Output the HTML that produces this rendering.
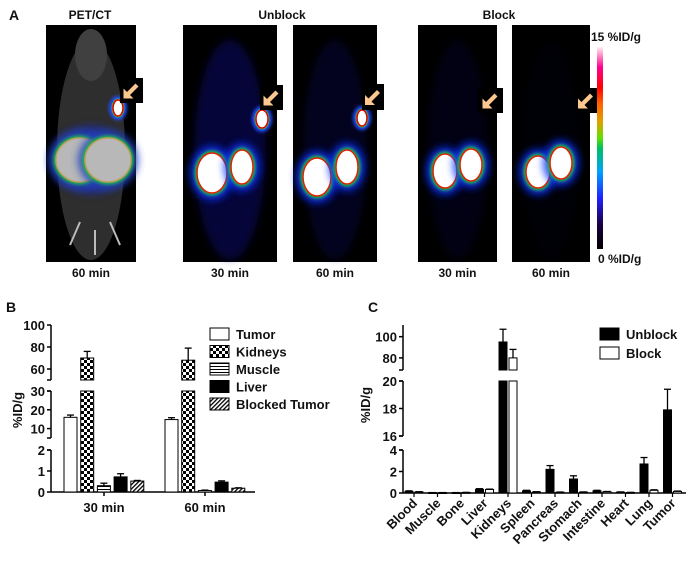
<!DOCTYPE html>
<html><head><meta charset="utf-8"><style>
body{margin:0;background:#fff;width:692px;height:561px;overflow:hidden;font-family:"Liberation Sans",Arial,sans-serif;}
svg text{font-family:"Liberation Sans",Arial,sans-serif;font-weight:bold;fill:#111;}
</style></head><body>
<svg id="fig" width="692" height="561" viewBox="0 0 692 561" xmlns="http://www.w3.org/2000/svg">
<defs>
<filter id="glow" x="-50%" y="-50%" width="200%" height="200%"><feGaussianBlur stdDeviation="4"/></filter>
<filter id="soft" x="-50%" y="-50%" width="200%" height="200%"><feGaussianBlur stdDeviation="1.5"/></filter>
<linearGradient id="cbar" x1="0" y1="1" x2="0" y2="0">
<stop offset="0" stop-color="#000"/><stop offset="0.12" stop-color="#1a0040"/><stop offset="0.25" stop-color="#2020ff"/><stop offset="0.38" stop-color="#00a0ff"/><stop offset="0.5" stop-color="#00c060"/><stop offset="0.55" stop-color="#60e000"/><stop offset="0.63" stop-color="#e0a000"/><stop offset="0.72" stop-color="#ff6000"/><stop offset="0.8" stop-color="#ff0000"/><stop offset="0.9" stop-color="#ff0090"/><stop offset="1" stop-color="#fff0f0"/>
</linearGradient>
<pattern id="checker" width="6" height="6" patternUnits="userSpaceOnUse"><rect width="6" height="6" fill="#fff"/><rect width="3" height="3" fill="#000"/><rect x="3" y="3" width="3" height="3" fill="#000"/></pattern>
<pattern id="hlines" width="4" height="3" patternUnits="userSpaceOnUse"><rect width="4" height="3" fill="#fff"/><rect width="4" height="1" fill="#000"/></pattern>
<pattern id="diag" width="3" height="3" patternUnits="userSpaceOnUse" patternTransform="rotate(45)"><rect width="3" height="3" fill="#fff"/><rect width="1.3" height="3" fill="#000"/></pattern>
</defs>
<g id="panelA"></g>
<g id="panelB"></g>
<g id="panelC"></g>
</svg>
<script>
// ---------- Panel B data ----------
const bGroups = ["30 min","60 min"];
const bSeries = ["Tumor","Kidneys","Muscle","Liver","Blocked Tumor"];
const bTumor = [16, 14.8];
const bKidneys = [70, 68];
const bMuscle = [0.3, 0.07];
const bLiver = [0.72, 0.47];
const bBlocked = [0.52, 0.18];
const bTumorErr = [1.2, 1.0];
const bKidneysErr = [6, 11];
const bMuscleErr = [0.12, 0.02];
const bLiverErr = [0.15, 0.06];
const bBlockedErr = [0.03, 0.02];
const bTicksLow = [0,1,2];
const bTicksMid = [10,20,30];
const bTicksTop = [60,80,100];
// ---------- Panel C data ----------
const cCategories = ["Blood","Muscle","Bone","Liver","Kidneys","Spleen","Pancreas","Stomach","Intestine","Heart","Lung","Tumor"];
const cUnblock = [0.15,0.03,0.03,0.35,95,0.2,2.2,1.3,0.2,0.08,2.7,17.9];
const cUnblockErr = [0.05,0.01,0.01,0.05,12,0.05,0.35,0.3,0.05,0.02,0.6,1.5];
const cBlock = [0.1,0.03,0.05,0.33,80,0.1,0.07,0.08,0.12,0.05,0.25,0.15];
const cBlockErr = [0.02,0.01,0.01,0.03,8,0.02,0.02,0.02,0.02,0.01,0.05,0.03];
const cTicksLow = [0,2,4];
const cTicksMid = [16,18,20];
const cTicksTop = [80,100];

const NS="http://www.w3.org/2000/svg";
function mk(tag,attrs,parent,txt){const e=document.createElementNS(NS,tag);for(const k in attrs)e.setAttribute(k,attrs[k]);if(txt!==undefined)e.textContent=txt;parent.appendChild(e);return e;}

// ---------- Panel A ----------
const A=document.getElementById('panelA');
let t;
t=mk('text',{x:9,y:20,'font-size':14},A,'A');


const heads=[["PET/CT",90],["Unblock",282],["Block",499]];
heads.forEach(h=>{const e=mk('text',{x:h[1],y:19,'font-size':12,'text-anchor':'middle'},A,h[0]);

});
const imgs=[
 {x:46,w:90,label:"60 min",ct:true,tumor:[118,108,5,8],kid:[[80,160,24,22],[108,160,23,22]],arrow:[120,78,23,25],bg:0.0},
 {x:183,w:94,label:"30 min",tumor:[262,119,6,9],kid:[[212,173,15,20],[242,167,11,17]],arrow:[260,85,23,25],bg:0.45},
 {x:293,w:84,label:"60 min",tumor:[362,118,5,8],kid:[[317,177,14,19],[347,167,11,17]],arrow:[362,84,22,26],bg:0.25},
 {x:418,w:79,label:"30 min",tumor:null,kid:[[445,171,12,17],[471,165,11,16]],arrow:[478,88,25,25],bg:0.15},
 {x:512,w:78,label:"60 min",tumor:null,kid:[[538,172,12,16],[561,163,11,16]],arrow:[575,88,22,25],bg:0.05}
];
imgs.forEach((im,i)=>{
 const g=mk('g',{},A);
 
 
 mk('rect',{x:im.x,y:25,width:im.w,height:237,fill:'#000'},g);
 const cx=im.x+im.w/2;
 if(im.ct){
  mk('ellipse',{cx:cx,cy:150,rx:34,ry:110,fill:'#2e2e2e'},g);
  mk('ellipse',{cx:cx,cy:55,rx:16,ry:26,fill:'#404040'},g);
  mk('ellipse',{cx:cx,cy:160,rx:40,ry:34,fill:'#2030b0',opacity:0.7,filter:'url(#glow)'},g);
  mk('path',{d:'M70 245 L80 222 M120 245 L110 222 M95 230 L95 255',stroke:'#bbb','stroke-width':2,fill:'none'},g);
 } else {
  mk('ellipse',{cx:cx,cy:150,rx:im.w*0.38,ry:110,fill:'#0a0a80',opacity:im.bg,filter:'url(#glow)'},g);
 }
 im.kid.forEach(k=>{
  mk('ellipse',{cx:k[0],cy:k[1],rx:k[2]+7,ry:k[3]+7,fill:im.ct?'#2040c0':'#1030ff',opacity:0.85,filter:'url(#glow)'},g);
  mk('ellipse',{cx:k[0],cy:k[1],rx:k[2]+2.5,ry:k[3]+2.5,fill:'#20c040',filter:'url(#soft)'},g);
  mk('ellipse',{cx:k[0],cy:k[1],rx:k[2],ry:k[3],fill:im.ct?'#b8b8b8':'#fff',stroke:im.ct?'#c0a060':'#e02000','stroke-width':1.5},g);
 });
 if(im.tumor){const k=im.tumor;
  mk('ellipse',{cx:k[0],cy:k[1],rx:k[2]+4,ry:k[3]+4,fill:'#2050ff',filter:'url(#soft)'},g);
  mk('ellipse',{cx:k[0],cy:k[1],rx:k[2]+1.5,ry:k[3]+1.5,fill:'#30c040'},g);
  mk('ellipse',{cx:k[0],cy:k[1],rx:k[2],ry:k[3],fill:'#fff',stroke:'#e00000','stroke-width':1.5},g);
 }
 const a=im.arrow;
 mk('rect',{x:a[0],y:a[1],width:a[2],height:a[3],fill:'#000'},g);
 const ax=a[0]+a[2]/2, ay=a[1]+a[3]/2;
 const ar=mk('path',{d:'M-8 8 L-8 -2 L-4.5 1.5 L4 -7 L7 -4 L-1.5 4.5 L2 8 Z',fill:'#fcc890',transform:`translate(${ax},${ay})`},g);
 
 
 const lt=mk('text',{x:cx,y:277,'font-size':12,'text-anchor':'middle'},A,im.label);
 
 
});
const cb=mk('rect',{x:597,y:47,width:6,height:202,fill:'url(#cbar)'},A);


t=mk('text',{x:591,y:41,'font-size':12},A,'15 %ID/g');


t=mk('text',{x:598,y:263,'font-size':12},A,'0 %ID/g');



// ---------- broken axis helper ----------
function brokenScale(segs){
 return function(v){for(const s of segs){if(v>=s[0]&&v<=s[1])return s[2]+(v-s[0])/(s[1]-s[0])*(s[3]-s[2]);}return null;};
}
function drawBroken(P,segs,axisX,xEnd){
 segs.forEach((s,i)=>{
  const l=mk('line',{x1:axisX,x2:axisX,y1:s[2],y2:s[3],stroke:'#000','stroke-width':1.5},P);
  
  
  if(i>0){mk('line',{x1:axisX-4,x2:axisX,y1:s[2],y2:s[2],stroke:'#000','stroke-width':1.5},P);}
  if(i<segs.length-1){mk('line',{x1:axisX-4,x2:axisX,y1:s[3],y2:s[3],stroke:'#000','stroke-width':1.5},P);}
 });
 const xa=mk('line',{x1:axisX,x2:xEnd,y1:segs[0][2],y2:segs[0][2],stroke:'#000','stroke-width':1.5},P);
 
 
}
function drawBar(P,segs,x,w,val,err,fill,name){
 const g=mk('g',{},P);
 
 
 let topY=null;
 // lower gap bridged: bars above first segment continue through the first gap
 segs.forEach((s,i)=>{
  if(val<=s[0]&&i>0)return;
  if(i===0&&val>segs[0][1]&&segs.length>1&&val>segs[1][0]){
   // merged rect from baseline through first gap
   const s1=segs[1];
   const v=Math.min(val,s1[1]);
   const y=s1[2]+(v-s1[0])/(s1[1]-s1[0])*(s1[3]-s1[2]);
   mk('rect',{x:x,y:y,width:w,height:s[2]-y,fill:fill,stroke:'#000','stroke-width':1},g);
   if(val<=s1[1])topY={s:s1,y:y};
   return;
  }
  if(i===1&&val>segs[0][1])return;
  const v=Math.min(val,s[1]);
  const y=s[2]+(v-s[0])/(s[1]-s[0])*(s[3]-s[2]);
  mk('rect',{x:x,y:y,width:w,height:Math.max(s[2]-y,0.8),fill:fill,stroke:'#000','stroke-width':1},g);
  if(val<=s[1])topY={s:s,y:y};
 });
 if(topY&&err>0){
  const s=topY.s;const ve=Math.min(val+err,s[1]+(s[1]-s[0])*0.3);
  const ye=s[2]+(ve-s[0])/(s[1]-s[0])*(s[3]-s[2]);
  mk('line',{x1:x+w/2,x2:x+w/2,y1:topY.y,y2:ye,stroke:'#000','stroke-width':1.3},g);
  mk('line',{x1:x+w/2-3.5,x2:x+w/2+3.5,y1:ye,y2:ye,stroke:'#000','stroke-width':1.3},g);
 }
}

// ---------- Panel B ----------
const B=document.getElementById('panelB');
t=mk('text',{x:6,y:312,'font-size':14},B,'B');


const bSegs=[[0,2,492,450],[5,30,438,391],[50,100,380,325]];
const yB=brokenScale(bSegs);
drawBroken(B,bSegs,51,255);
[bTicksLow,bTicksMid,bTicksTop].forEach(a=>a.forEach(v=>{
 const y=yB(v);
 mk('line',{x1:47,x2:51,y1:y,y2:y,stroke:'#000','stroke-width':1.5},B);
 const e=mk('text',{x:45,y:y+5,'font-size':13,'text-anchor':'end'},B,String(v));
 
 
}));
t=mk('text',{x:0,y:0,'font-size':13,'text-anchor':'middle',transform:'translate(22,410) rotate(-90)'},B,'%ID/g');


const bFills=['#fff','url(#checker)','url(#hlines)','#000','url(#diag)'];
const bVals=[bTumor,bKidneys,bMuscle,bLiver,bBlocked];
const bErrs=[bTumorErr,bKidneysErr,bMuscleErr,bLiverErr,bBlockedErr];
bGroups.forEach((gname,gi)=>{
 const gx=64+gi*101;
 bSeries.forEach((s,si)=>{
  drawBar(B,bSegs,gx+si*16.7,13,bVals[si][gi],bErrs[si][gi],bFills[si],'bar-'+s.toLowerCase().replace(' ','-')+'-'+gi);
 });
 mk('line',{x1:gx+40,x2:gx+40,y1:492,y2:496,stroke:'#000','stroke-width':1.5},B);
 const e=mk('text',{x:gx+40,y:512,'font-size':13,'text-anchor':'middle'},B,gname);
 
 
});
bSeries.forEach((s,i)=>{
 const y=328+i*17.5;
 const g=mk('g',{},B);
 
 
 mk('rect',{x:210,y:y,width:19,height:12,fill:bFills[i],stroke:'#000','stroke-width':1},g);
 mk('text',{x:236,y:y+11,'font-size':13},g,s);
});

// ---------- Panel C ----------
const C=document.getElementById('panelC');
t=mk('text',{x:368,y:312,'font-size':14},C,'C');


const cSegs=[[0,4,493,450],[16,20,436,381],[68.6,111,370,325]];
const yC=brokenScale(cSegs);
drawBroken(C,cSegs,403,686);
[cTicksLow,cTicksMid,cTicksTop].forEach(a=>a.forEach(v=>{
 const y=yC(v);
 mk('line',{x1:399,x2:403,y1:y,y2:y,stroke:'#000','stroke-width':1.5},C);
 const e=mk('text',{x:397,y:y+5,'font-size':13,'text-anchor':'end'},C,String(v));
 
 
}));
t=mk('text',{x:0,y:0,'font-size':13,'text-anchor':'middle',transform:'translate(370,405) rotate(-90)'},C,'%ID/g');


cCategories.forEach((c,i)=>{
 const x0=405+i*23.5;
 drawBar(C,cSegs,x0,8,cUnblock[i],cUnblockErr[i],'#000','bar-unblock-'+c.toLowerCase());
 drawBar(C,cSegs,x0+10,8,cBlock[i],cBlockErr[i],'#fff','bar-block-'+c.toLowerCase());
 const cx=x0+9;
 mk('line',{x1:cx,x2:cx,y1:493,y2:497,stroke:'#000','stroke-width':1.2},C);
 const e=mk('text',{x:0,y:0,'font-size':13,'text-anchor':'end',transform:`translate(${cx+4},${504}) rotate(-45)`},C,c);
 
 
});
[["Unblock","#000"],["Block","#fff"]].forEach((l,i)=>{
 const y=328+i*19;
 const g=mk('g',{},C);
 
 
 mk('rect',{x:600,y:y,width:19,height:12,fill:l[1],stroke:'#000','stroke-width':1},g);
 mk('text',{x:626,y:y+11,'font-size':13},g,l[0]);
});
</script>
</body></html>
